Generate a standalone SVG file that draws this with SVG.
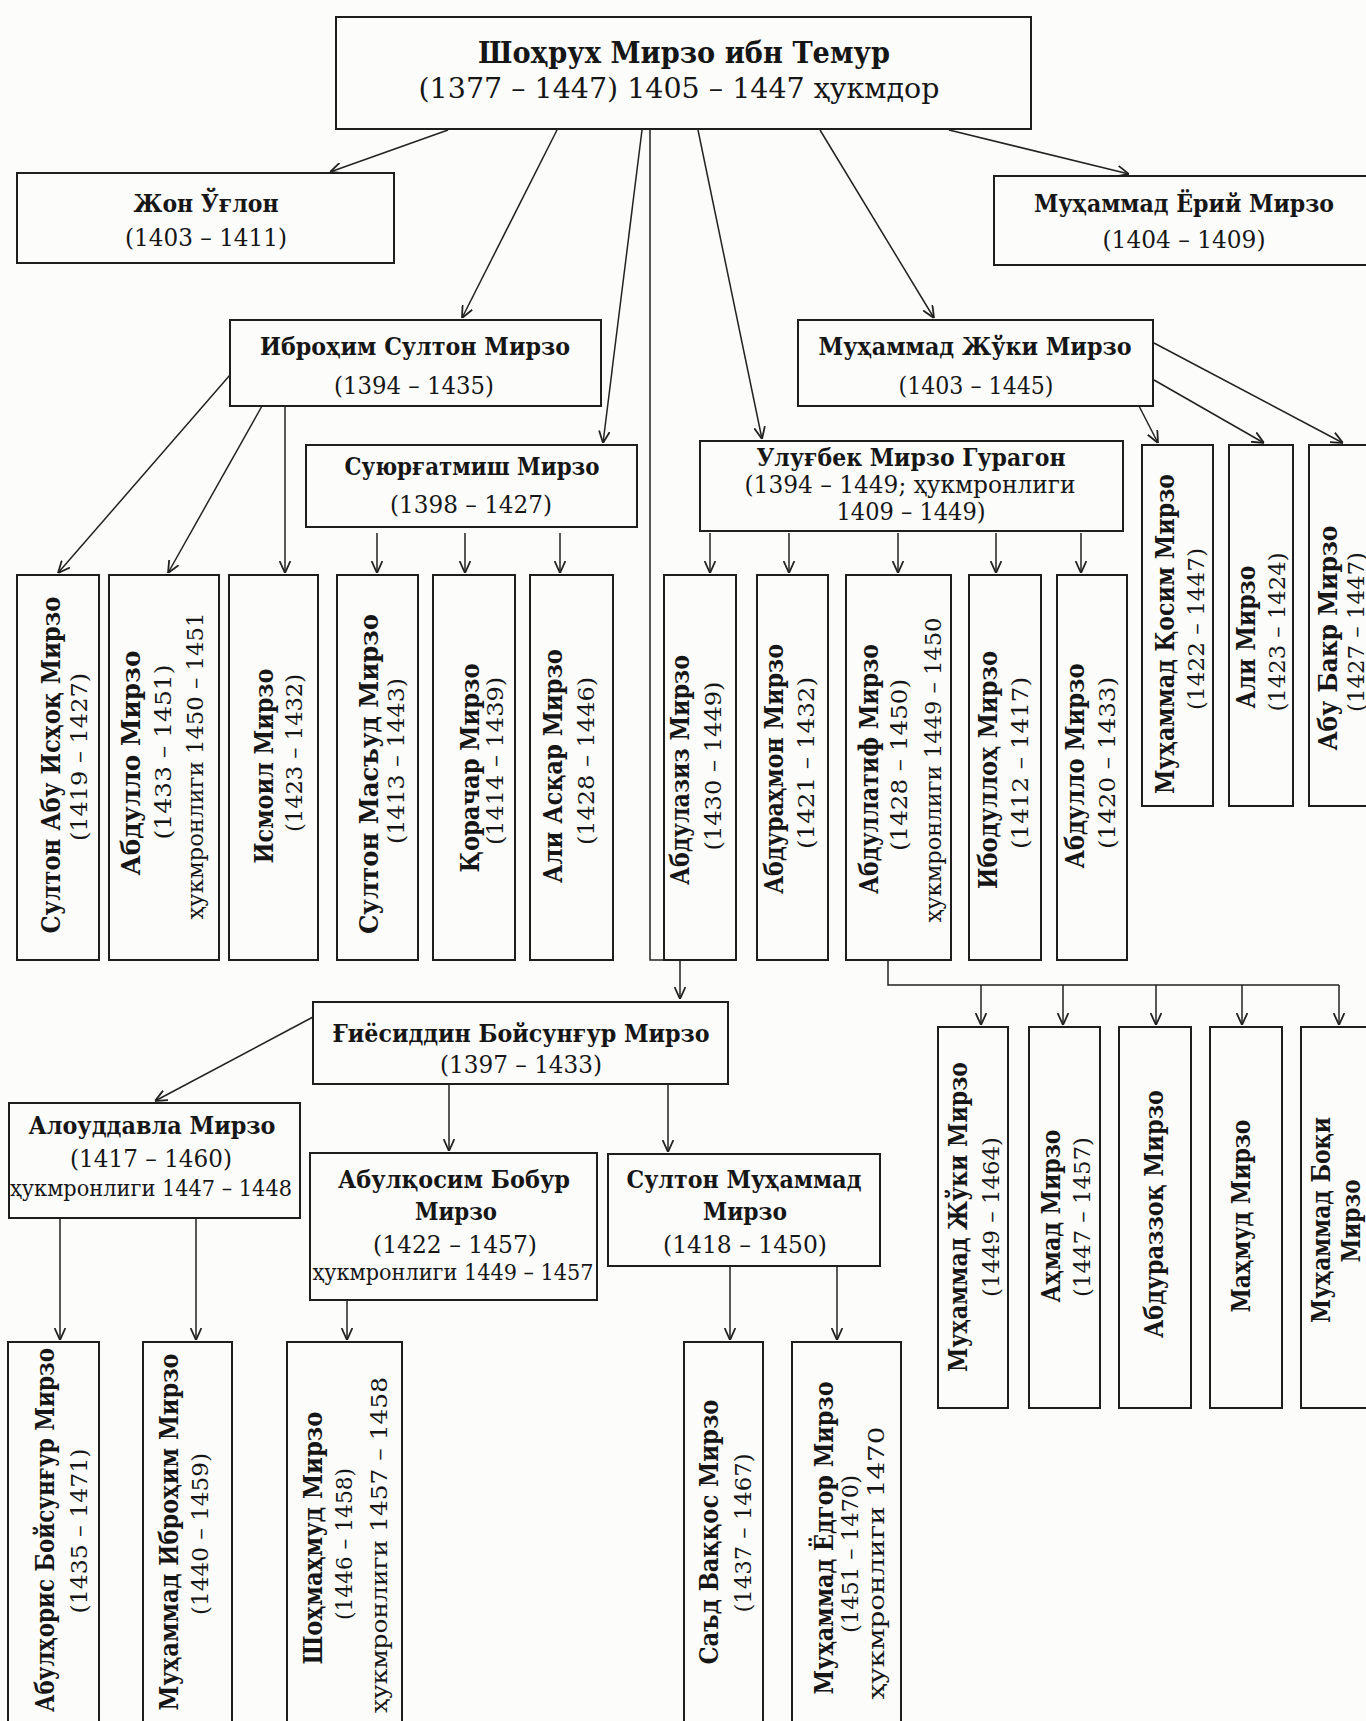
<svg xmlns="http://www.w3.org/2000/svg" width="1366" height="1721" viewBox="0 0 1366 1721">
<style>
.bg{fill:#fcfcfb}
.box{fill:none;stroke:#1e1e1e;stroke-width:2}
.c{fill:none;stroke:#222;stroke-width:1.5}
text{font-family:"DejaVu Serif","Liberation Serif",serif;fill:#161616;text-anchor:middle}
.t{font-size:30px;font-weight:bold}
.t2{font-size:28px}
.n{font-size:24px;font-weight:bold}
.d{font-size:24px}
.s{font-size:22px}
.vn{font-size:26px;font-weight:bold}
.vd{font-size:23px}
</style>
<defs>
<marker id="ah" viewBox="0 0 10 10" refX="10" refY="5" markerWidth="12" markerHeight="12" markerUnits="userSpaceOnUse" orient="auto">
<path d="M0,0.5 L10,5 L0,9.5" fill="none" stroke="#222" stroke-width="1.5"/>
</marker>
</defs>
<rect class="bg" x="0" y="0" width="1366" height="1721"/>

<g id="connectors">
<path class="c" d="M448,130 L330,172" marker-end="url(#ah)"/>
<path class="c" d="M557,130 L462,318" marker-end="url(#ah)"/>
<path class="c" d="M642,130 L603,443" marker-end="url(#ah)"/>
<path class="c" d="M650,130 V960 H680 V999" marker-end="url(#ah)"/>
<path class="c" d="M698,130 L762,439" marker-end="url(#ah)"/>
<path class="c" d="M820,130 L934,318" marker-end="url(#ah)"/>
<path class="c" d="M949,130 L1129,174" marker-end="url(#ah)"/>
<path class="c" d="M230,375 L58,573" marker-end="url(#ah)"/>
<path class="c" d="M262,406 L168,573" marker-end="url(#ah)"/>
<path class="c" d="M285,406 V573" marker-end="url(#ah)"/>
<path class="c" d="M377,533 V573" marker-end="url(#ah)"/>
<path class="c" d="M465,533 V573" marker-end="url(#ah)"/>
<path class="c" d="M560,533 V573" marker-end="url(#ah)"/>
<path class="c" d="M710,533 V573" marker-end="url(#ah)"/>
<path class="c" d="M789,533 V573" marker-end="url(#ah)"/>
<path class="c" d="M898,533 V573" marker-end="url(#ah)"/>
<path class="c" d="M996,533 V573" marker-end="url(#ah)"/>
<path class="c" d="M1081,533 V573" marker-end="url(#ah)"/>
<path class="c" d="M1154,343 L1343,443" marker-end="url(#ah)"/>
<path class="c" d="M1154,380 L1264,443" marker-end="url(#ah)"/>
<path class="c" d="M1139,406 L1158,443" marker-end="url(#ah)"/>
<path class="c" d="M888,960 V985 H1339"/>
<path class="c" d="M981,985 V1025" marker-end="url(#ah)"/>
<path class="c" d="M1063,985 V1025" marker-end="url(#ah)"/>
<path class="c" d="M1156,985 V1025" marker-end="url(#ah)"/>
<path class="c" d="M1242,985 V1025" marker-end="url(#ah)"/>
<path class="c" d="M1339,985 V1025" marker-end="url(#ah)"/>
<path class="c" d="M313,1017 L155,1101" marker-end="url(#ah)"/>
<path class="c" d="M449,1084 V1151" marker-end="url(#ah)"/>
<path class="c" d="M668,1084 V1152" marker-end="url(#ah)"/>
<path class="c" d="M60,1218 V1340" marker-end="url(#ah)"/>
<path class="c" d="M196,1218 V1340" marker-end="url(#ah)"/>
<path class="c" d="M347,1300 V1340" marker-end="url(#ah)"/>
<path class="c" d="M730,1266 V1340" marker-end="url(#ah)"/>
<path class="c" d="M837,1266 V1340" marker-end="url(#ah)"/>
</g>

<g id="shohrukh">
<rect class="box" x="336" y="17" width="695" height="112"/>
<text class="t" x="684" y="63" textLength="412" lengthAdjust="spacingAndGlyphs">Шоҳрух Мирзо ибн Темур</text>
<text class="t2" x="679" y="98" textLength="521" lengthAdjust="spacingAndGlyphs">(1377 – 1447) 1405 – 1447 ҳукмдор</text>
</g>
<g id="jon">
<rect class="box" x="17" y="173" width="377" height="90"/>
<text class="n" x="206" y="212" textLength="145" lengthAdjust="spacingAndGlyphs">Жон Ўғлон</text>
<text class="d" x="206" y="246" textLength="162" lengthAdjust="spacingAndGlyphs">(1403 – 1411)</text>
</g>
<g id="yorii">
<rect class="box" x="994" y="176" width="390" height="89"/>
<text class="n" x="1184" y="212" textLength="300" lengthAdjust="spacingAndGlyphs">Муҳаммад Ёрий Мирзо</text>
<text class="d" x="1184" y="248" textLength="163" lengthAdjust="spacingAndGlyphs">(1404 – 1409)</text>
</g>
<g id="ibrohim">
<rect class="box" x="230" y="320" width="371" height="86"/>
<text class="n" x="415" y="355" textLength="310" lengthAdjust="spacingAndGlyphs">Иброҳим Султон Мирзо</text>
<text class="d" x="414" y="394" textLength="160" lengthAdjust="spacingAndGlyphs">(1394 – 1435)</text>
</g>
<g id="juki">
<rect class="box" x="798" y="320" width="355" height="86"/>
<text class="n" x="975" y="355" textLength="313" lengthAdjust="spacingAndGlyphs">Муҳаммад Жўки Мирзо</text>
<text class="d" x="976" y="394" textLength="155" lengthAdjust="spacingAndGlyphs">(1403 – 1445)</text>
</g>
<g id="suyurgatmish">
<rect class="box" x="306" y="445" width="331" height="82"/>
<text class="n" x="472" y="475" textLength="255" lengthAdjust="spacingAndGlyphs">Суюрғатмиш Мирзо</text>
<text class="d" x="471" y="513" textLength="162" lengthAdjust="spacingAndGlyphs">(1398 – 1427)</text>
</g>
<g id="ulugbek">
<rect class="box" x="700" y="441" width="423" height="90"/>
<text class="n" x="911" y="466" textLength="309" lengthAdjust="spacingAndGlyphs">Улуғбек Мирзо Гурагон</text>
<text class="d" x="910" y="493" textLength="331" lengthAdjust="spacingAndGlyphs">(1394 – 1449; ҳукмронлиги</text>
<text class="d" x="911" y="520" textLength="149" lengthAdjust="spacingAndGlyphs">1409 – 1449)</text>
</g>

<g id="abu-ishoq">
<rect class="box" x="17" y="575" width="82" height="385"/>
<text class="vn" transform="translate(60,765) rotate(-90)" textLength="337" lengthAdjust="spacingAndGlyphs">Султон Абу Исҳоқ Мирзо</text>
<text class="vd" transform="translate(87,757) rotate(-90)" textLength="168" lengthAdjust="spacingAndGlyphs">(1419 – 1427)</text>
</g>
<g id="abdullo1">
<rect class="box" x="109" y="575" width="110" height="385"/>
<text class="vn" transform="translate(140,763) rotate(-90)" textLength="225" lengthAdjust="spacingAndGlyphs">Абдулло Мирзо</text>
<text class="vd" transform="translate(171,752) rotate(-90)" textLength="175" lengthAdjust="spacingAndGlyphs">(1433 – 1451)</text>
<text class="vd" transform="translate(203,766) rotate(-90)" textLength="307" lengthAdjust="spacingAndGlyphs">ҳукмронлиги 1450 – 1451</text>
</g>
<g id="ismoil">
<rect class="box" x="229" y="575" width="89" height="385"/>
<text class="vn" transform="translate(273,766) rotate(-90)" textLength="195" lengthAdjust="spacingAndGlyphs">Исмоил Мирзо</text>
<text class="vd" transform="translate(302,753) rotate(-90)" textLength="158" lengthAdjust="spacingAndGlyphs">(1423 – 1432)</text>
</g>
<g id="masud">
<rect class="box" x="337" y="575" width="81" height="385"/>
<text class="vn" transform="translate(378,774) rotate(-90)" textLength="320" lengthAdjust="spacingAndGlyphs">Султон Масъуд Мирзо</text>
<text class="vd" transform="translate(404,761) rotate(-90)" textLength="166" lengthAdjust="spacingAndGlyphs">(1413 – 1443)</text>
</g>
<g id="qorachar">
<rect class="box" x="433" y="575" width="82" height="385"/>
<text class="vn" transform="translate(479,768) rotate(-90)" textLength="209" lengthAdjust="spacingAndGlyphs">Қорачар Мирзо</text>
<text class="vd" transform="translate(503,761) rotate(-90)" textLength="168" lengthAdjust="spacingAndGlyphs">(1414 – 1439)</text>
</g>
<g id="asqar">
<rect class="box" x="530" y="575" width="83" height="385"/>
<text class="vn" transform="translate(562,766) rotate(-90)" textLength="234" lengthAdjust="spacingAndGlyphs">Али Асқар Мирзо</text>
<text class="vd" transform="translate(594,761) rotate(-90)" textLength="168" lengthAdjust="spacingAndGlyphs">(1428 – 1446)</text>
</g>
<g id="abdulaziz">
<rect class="box" x="664" y="575" width="72" height="385"/>
<text class="vn" transform="translate(689,770) rotate(-90)" textLength="230" lengthAdjust="spacingAndGlyphs">Абдулазиз Мирзо</text>
<text class="vd" transform="translate(721,766) rotate(-90)" textLength="169" lengthAdjust="spacingAndGlyphs">(1430 – 1449)</text>
</g>
<g id="abdurahmon">
<rect class="box" x="757" y="575" width="71" height="385"/>
<text class="vn" transform="translate(783,769) rotate(-90)" textLength="250" lengthAdjust="spacingAndGlyphs">Абдураҳмон Мирзо</text>
<text class="vd" transform="translate(814,763) rotate(-90)" textLength="172" lengthAdjust="spacingAndGlyphs">(1421 – 1432)</text>
</g>
<g id="abdullatif">
<rect class="box" x="846" y="575" width="105" height="385"/>
<text class="vn" transform="translate(878,769) rotate(-90)" textLength="250" lengthAdjust="spacingAndGlyphs">Абдуллатиф Мирзо</text>
<text class="vd" transform="translate(907,765) rotate(-90)" textLength="172" lengthAdjust="spacingAndGlyphs">(1428 – 1450)</text>
<text class="vd" transform="translate(941,770) rotate(-90)" textLength="305" lengthAdjust="spacingAndGlyphs">ҳукмронлиги 1449 – 1450</text>
</g>
<g id="ibodulloh">
<rect class="box" x="969" y="575" width="72" height="385"/>
<text class="vn" transform="translate(997,770) rotate(-90)" textLength="238" lengthAdjust="spacingAndGlyphs">Ибодуллоҳ Мирзо</text>
<text class="vd" transform="translate(1028,763) rotate(-90)" textLength="172" lengthAdjust="spacingAndGlyphs">(1412 – 1417)</text>
</g>
<g id="abdullo2">
<rect class="box" x="1057" y="575" width="70" height="385"/>
<text class="vn" transform="translate(1084,766) rotate(-90)" textLength="205" lengthAdjust="spacingAndGlyphs">Абдулло Мирзо</text>
<text class="vd" transform="translate(1115,763) rotate(-90)" textLength="172" lengthAdjust="spacingAndGlyphs">(1420 – 1433)</text>
</g>

<g id="qosim">
<rect class="box" x="1142" y="445" width="71" height="361"/>
<text class="vn" transform="translate(1174,634) rotate(-90)" textLength="320" lengthAdjust="spacingAndGlyphs">Муҳаммад Қосим Мирзо</text>
<text class="vd" transform="translate(1204,629) rotate(-90)" textLength="162" lengthAdjust="spacingAndGlyphs">(1422 – 1447)</text>
</g>
<g id="ali">
<rect class="box" x="1229" y="445" width="64" height="361"/>
<text class="vn" transform="translate(1255,637) rotate(-90)" textLength="143" lengthAdjust="spacingAndGlyphs">Али Мирзо</text>
<text class="vd" transform="translate(1285,632) rotate(-90)" textLength="159" lengthAdjust="spacingAndGlyphs">(1423 – 1424)</text>
</g>
<g id="abubakr">
<rect class="box" x="1309" y="445" width="80" height="361"/>
<text class="vn" transform="translate(1337,638) rotate(-90)" textLength="225" lengthAdjust="spacingAndGlyphs">Абу Бакр Мирзо</text>
<text class="vd" transform="translate(1364,632) rotate(-90)" textLength="160" lengthAdjust="spacingAndGlyphs">(1427 – 1447)</text>
</g>

<g id="giyosiddin">
<rect class="box" x="313" y="1002" width="415" height="82"/>
<text class="n" x="521" y="1042" textLength="377" lengthAdjust="spacingAndGlyphs">Ғиёсиддин Бойсунғур Мирзо</text>
<text class="d" x="521" y="1073" textLength="162" lengthAdjust="spacingAndGlyphs">(1397 – 1433)</text>
</g>
<g id="alouddavla">
<rect class="box" x="9" y="1103" width="291" height="115"/>
<text class="n" x="152" y="1134" textLength="247" lengthAdjust="spacingAndGlyphs">Алоуддавла Мирзо</text>
<text class="d" x="151" y="1167" textLength="162" lengthAdjust="spacingAndGlyphs">(1417 – 1460)</text>
<text class="s" x="151" y="1196" textLength="282" lengthAdjust="spacingAndGlyphs">ҳукмронлиги 1447 – 1448</text>
</g>
<g id="abulqosim">
<rect class="box" x="310" y="1153" width="287" height="147"/>
<text class="n" x="454" y="1188" textLength="232" lengthAdjust="spacingAndGlyphs">Абулқосим Бобур</text>
<text class="n" x="456" y="1220" textLength="82" lengthAdjust="spacingAndGlyphs">Мирзо</text>
<text class="d" x="455" y="1253" textLength="164" lengthAdjust="spacingAndGlyphs">(1422 – 1457)</text>
<text class="s" x="453" y="1280" textLength="281" lengthAdjust="spacingAndGlyphs">ҳукмронлиги 1449 – 1457</text>
</g>
<g id="sulton-muhammad">
<rect class="box" x="608" y="1154" width="272" height="112"/>
<text class="n" x="744" y="1188" textLength="235" lengthAdjust="spacingAndGlyphs">Султон Муҳаммад</text>
<text class="n" x="745" y="1220" textLength="84" lengthAdjust="spacingAndGlyphs">Мирзо</text>
<text class="d" x="745" y="1253" textLength="164" lengthAdjust="spacingAndGlyphs">(1418 – 1450)</text>
</g>

<g id="juki2">
<rect class="box" x="938" y="1027" width="70" height="381"/>
<text class="vn" transform="translate(967,1217) rotate(-90)" textLength="310" lengthAdjust="spacingAndGlyphs">Муҳаммад Жўки Мирзо</text>
<text class="vd" transform="translate(999,1217) rotate(-90)" textLength="160" lengthAdjust="spacingAndGlyphs">(1449 – 1464)</text>
</g>
<g id="ahmad">
<rect class="box" x="1029" y="1027" width="71" height="381"/>
<text class="vn" transform="translate(1060,1216) rotate(-90)" textLength="173" lengthAdjust="spacingAndGlyphs">Аҳмад Мирзо</text>
<text class="vd" transform="translate(1090,1217) rotate(-90)" textLength="160" lengthAdjust="spacingAndGlyphs">(1447 – 1457)</text>
</g>
<g id="abdurazzoq">
<rect class="box" x="1119" y="1027" width="72" height="381"/>
<text class="vn" transform="translate(1163,1214) rotate(-90)" textLength="248" lengthAdjust="spacingAndGlyphs">Абдураззоқ Мирзо</text>
</g>
<g id="mahmud">
<rect class="box" x="1210" y="1027" width="72" height="381"/>
<text class="vn" transform="translate(1250,1216) rotate(-90)" textLength="193" lengthAdjust="spacingAndGlyphs">Маҳмуд Мирзо</text>
</g>
<g id="boqi">
<rect class="box" x="1301" y="1027" width="90" height="381"/>
<text class="vn" transform="translate(1330,1220) rotate(-90)" textLength="206" lengthAdjust="spacingAndGlyphs">Муҳаммад Боқи</text>
<text class="vn" transform="translate(1360,1221) rotate(-90)" textLength="83" lengthAdjust="spacingAndGlyphs">Мирзо</text>
</g>

<g id="abulhoris">
<rect class="box" x="8" y="1342" width="91" height="400"/>
<text class="vn" transform="translate(54,1530) rotate(-90)" textLength="364" lengthAdjust="spacingAndGlyphs">Абулҳорис Бойсунғур Мирзо</text>
<text class="vd" transform="translate(87,1531) rotate(-90)" textLength="165" lengthAdjust="spacingAndGlyphs">(1435 – 1471)</text>
</g>
<g id="muhammad-ibrohim">
<rect class="box" x="143" y="1342" width="89" height="400"/>
<text class="vn" transform="translate(178,1532) rotate(-90)" textLength="357" lengthAdjust="spacingAndGlyphs">Муҳаммад Иброҳим Мирзо</text>
<text class="vd" transform="translate(208,1534) rotate(-90)" textLength="162" lengthAdjust="spacingAndGlyphs">(1440 – 1459)</text>
</g>
<g id="shohmahmud">
<rect class="box" x="287" y="1342" width="115" height="400"/>
<text class="vn" transform="translate(322,1538) rotate(-90)" textLength="253" lengthAdjust="spacingAndGlyphs">Шоҳмаҳмуд Мирзо</text>
<text class="vd" transform="translate(352,1544) rotate(-90)" textLength="152" lengthAdjust="spacingAndGlyphs">(1446 – 1458)</text>
<text class="vd" transform="translate(387,1545) rotate(-90)" textLength="336" lengthAdjust="spacingAndGlyphs">ҳукмронлиги 1457 – 1458</text>
</g>
<g id="saad">
<rect class="box" x="684" y="1342" width="79" height="400"/>
<text class="vn" transform="translate(718,1532) rotate(-90)" textLength="265" lengthAdjust="spacingAndGlyphs">Саъд Ваққос Мирзо</text>
<text class="vd" transform="translate(751,1533) rotate(-90)" textLength="159" lengthAdjust="spacingAndGlyphs">(1437 – 1467)</text>
</g>
<g id="yodgor">
<rect class="box" x="792" y="1342" width="109" height="400"/>
<text class="vn" transform="translate(833,1538) rotate(-90)" textLength="313" lengthAdjust="spacingAndGlyphs">Муҳаммад Ёдгор Мирзо</text>
<text class="vd" transform="translate(858,1554) rotate(-90)" textLength="158" lengthAdjust="spacingAndGlyphs">(1451 – 1470)</text>
<text class="vd" transform="translate(884,1563) rotate(-90)" textLength="273" lengthAdjust="spacingAndGlyphs">ҳукмронлиги 1470</text>
</g>
</svg>
